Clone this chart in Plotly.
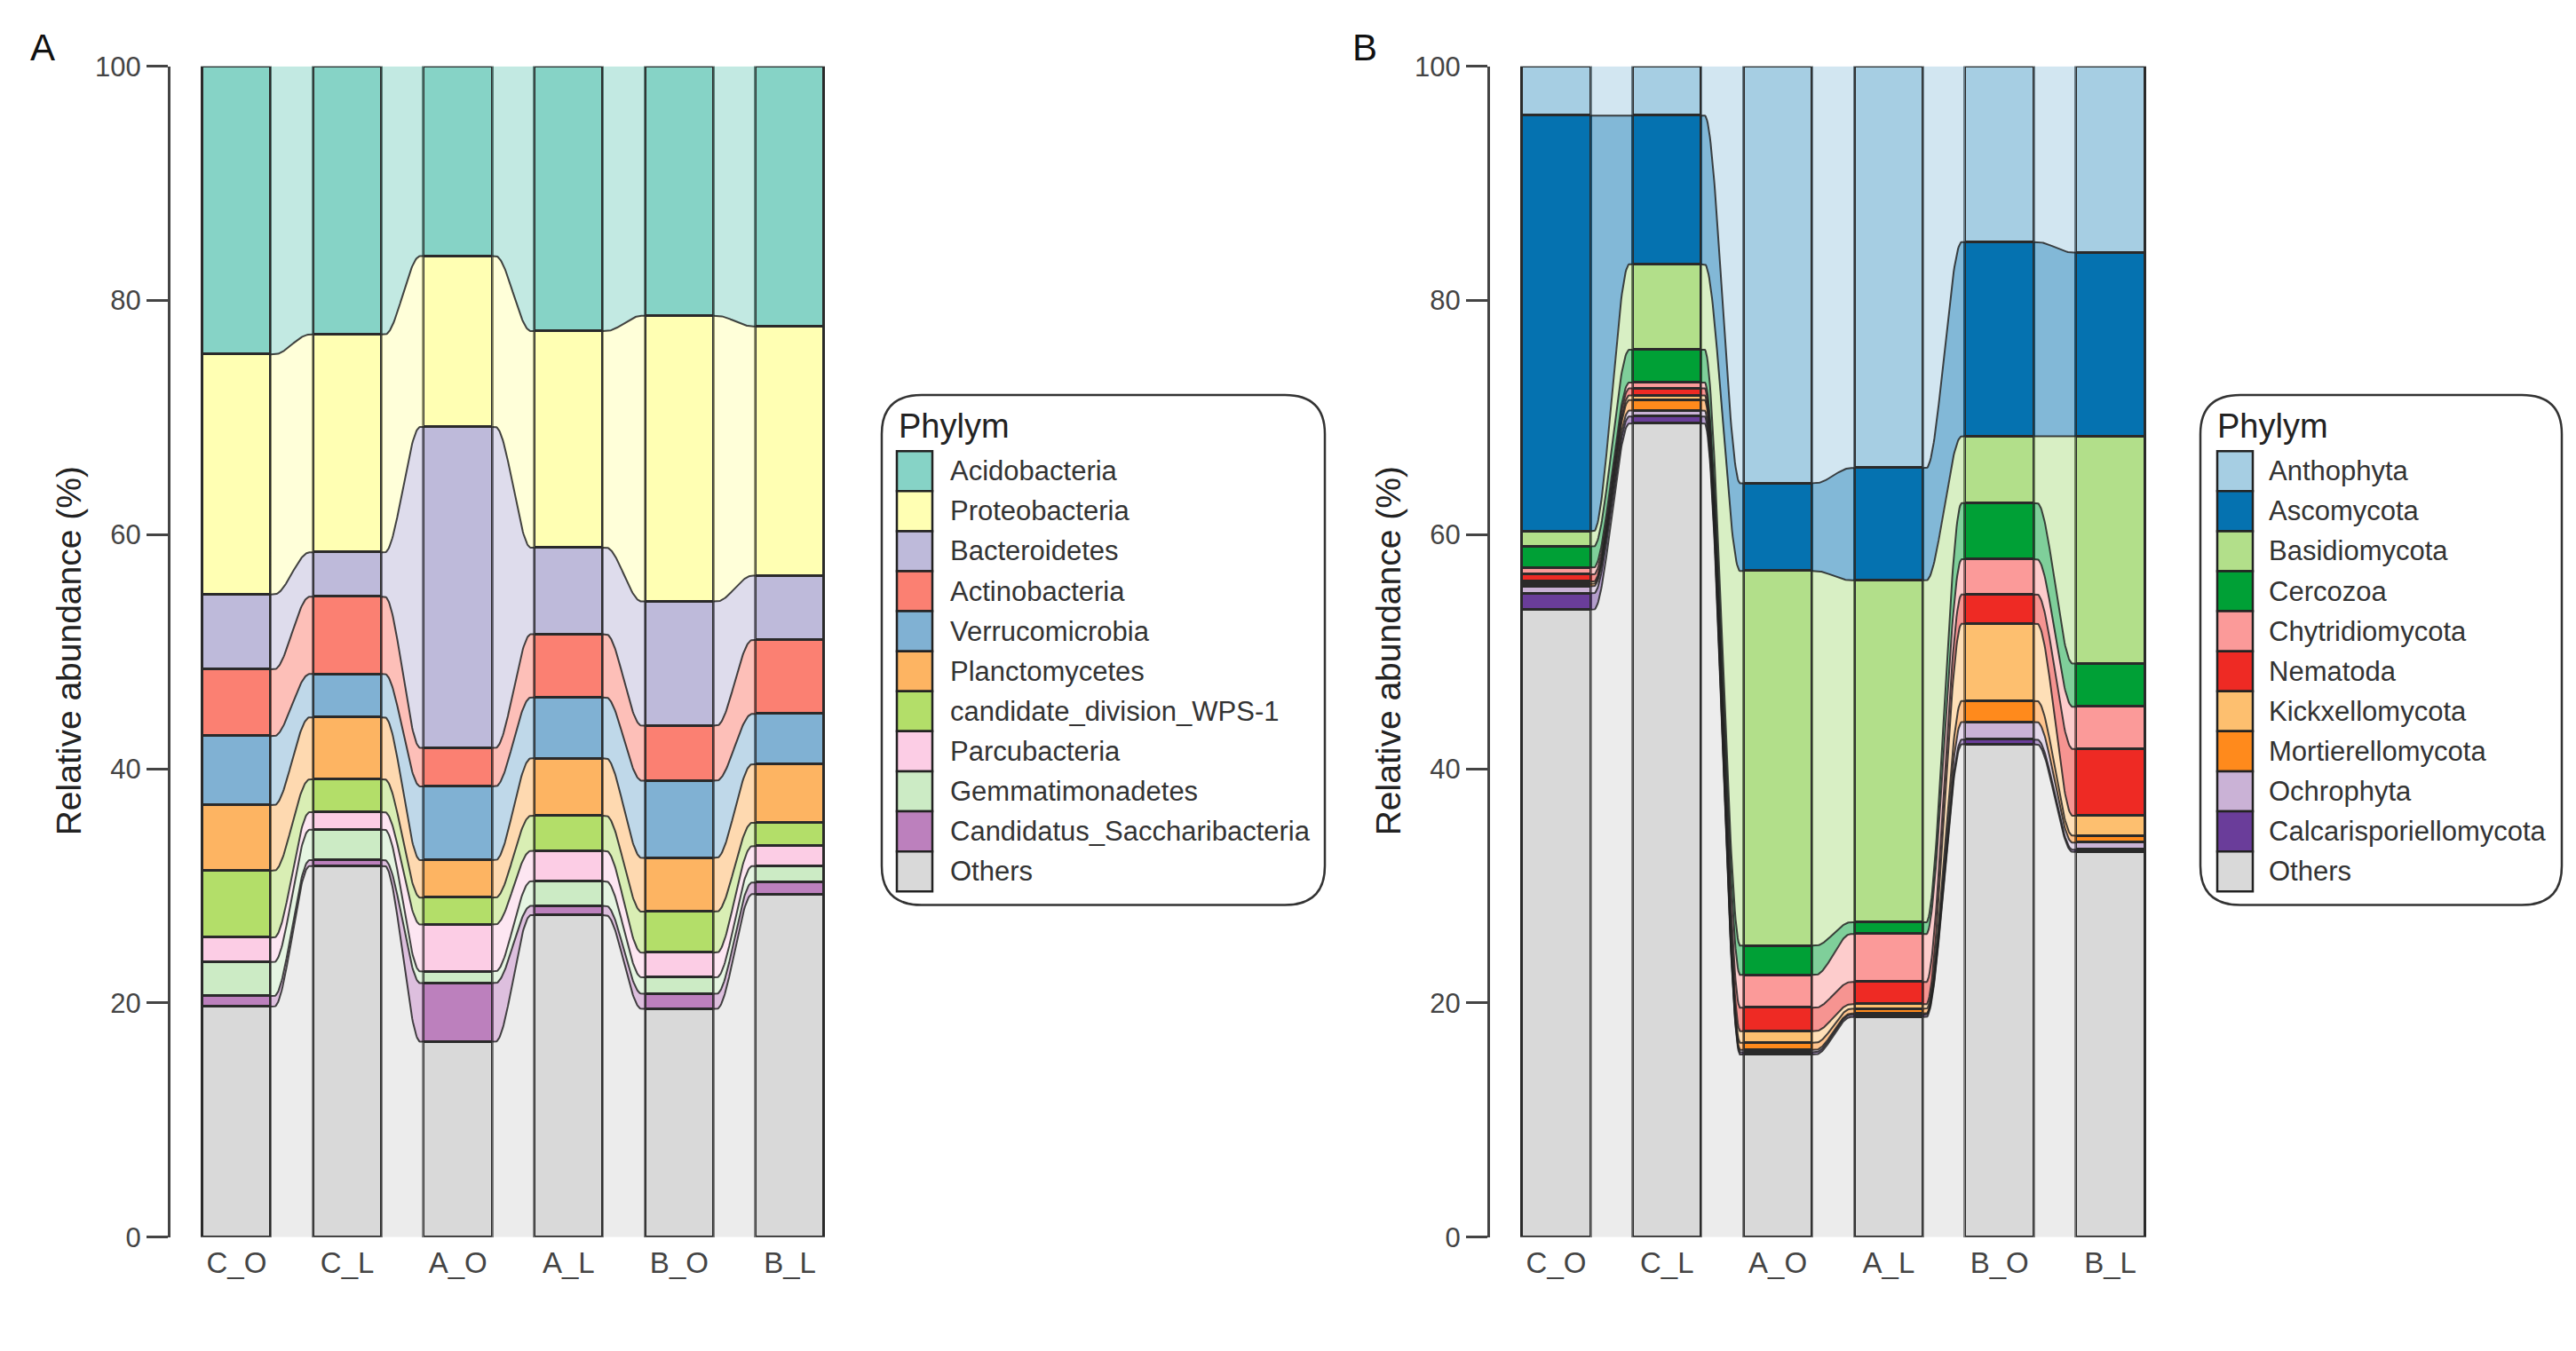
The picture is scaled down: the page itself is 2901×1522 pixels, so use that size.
import numpy as np
import plotly.graph_objects as go

W, H = 2901, 1522

samples = ["C_O", "C_L", "A_O", "A_L", "B_O", "B_L"]
y_ticks = [0, 20, 40, 60, 80, 100]

# ---------------- Panel A (bacteria), legend order top -> bottom ----------------
bact_names = ["Acidobacteria", "Proteobacteria", "Bacteroidetes", "Actinobacteria",
              "Verrucomicrobia", "Planctomycetes", "candidate_division_WPS-1",
              "Parcubacteria", "Gemmatimonadetes", "Candidatus_Saccharibacteria", "Others"]
acidobacteria    = [24.6, 22.9, 16.2, 22.6, 21.3, 22.2]
proteobacteria   = [20.5, 18.6, 14.6, 18.5, 24.4, 21.3]
bacteroidetes    = [6.4, 3.8, 27.4, 7.4, 10.6, 5.5]
actinobacteria   = [5.7, 6.6, 3.3, 5.4, 4.7, 6.3]
verrucomicrobia  = [5.9, 3.7, 6.3, 5.2, 6.6, 4.3]
planctomycetes   = [5.6, 5.3, 3.2, 4.9, 4.6, 5.0]
wps1             = [5.7, 2.8, 2.3, 3.0, 3.5, 2.0]
parcubacteria    = [2.1, 1.5, 4.0, 2.6, 2.1, 1.7]
gemmatimonadetes = [2.9, 2.6, 1.0, 2.1, 1.4, 1.4]
saccharibacteria = [0.9, 0.5, 5.0, 0.8, 1.3, 1.0]
bact_others      = [19.7, 31.7, 16.7, 27.5, 19.5, 29.3]
bact_colors = ["#86D3C6", "#FFFFB3", "#BEBADA", "#FB8072", "#80B1D3", "#FDB462",
               "#B3DE69", "#FCCDE5", "#CCEBC5", "#BC80BD", "#D9D9D9"]

# ---------------- Panel B (eukaryotes), legend order top -> bottom ----------------
euk_names = ["Anthophyta", "Ascomycota", "Basidiomycota", "Cercozoa", "Chytridiomycota",
             "Nematoda", "Kickxellomycota", "Mortierellomycota", "Ochrophyta",
             "Calcarisporiellomycota", "Others"]
anthophyta        = [4.2, 4.2, 35.6, 34.3, 15.0, 15.9]
ascomycota        = [35.5, 12.7, 7.5, 9.6, 16.6, 15.7]
basidiomycota     = [1.3, 7.3, 32.0, 29.2, 5.7, 19.4]
cercozoa          = [1.8, 2.8, 2.5, 1.0, 4.8, 3.7]
chytridiomycota   = [0.6, 0.5, 2.8, 4.1, 3.0, 3.6]
nematoda          = [0.6, 0.6, 2.0, 1.9, 2.5, 5.7]
kickxellomycota   = [0.2, 0.4, 1.0, 0.4, 6.6, 1.7]
mortierellomycota = [0.2, 0.9, 0.6, 0.4, 1.8, 0.6]
ochrophyta        = [0.6, 0.5, 0.2, 0.1, 1.5, 0.6]
calcarisporiello  = [1.4, 0.6, 0.2, 0.2, 0.4, 0.2]
euk_others        = [53.6, 69.5, 15.6, 18.8, 42.1, 32.9]
euk_colors = ["#A6CEE3", "#0572B0", "#B2DF8A", "#00A036", "#FB9A99", "#EE2A24",
              "#FDBF6F", "#FF8A1C", "#CAB2D6", "#6A3D9A", "#D9D9D9"]

bact_values = [acidobacteria, proteobacteria, bacteroidetes, actinobacteria, verrucomicrobia,
               planctomycetes, wps1, parcubacteria, gemmatimonadetes, saccharibacteria, bact_others]
euk_values = [anthophyta, ascomycota, basidiomycota, cercozoa, chytridiomycota, nematoda,
              kickxellomycota, mortierellomycota, ochrophyta, calcarisporiello, euk_others]

BAR_W = 0.62
FONT = "Liberation Sans, Arial, sans-serif"


def rgba(hexc, a):
    h = hexc.lstrip("#")
    return f"rgba({int(h[0:2],16)},{int(h[2:4],16)},{int(h[4:6],16)},{a})"


def curve(t):
    s = np.clip((t - 0.08) / 0.84, 0, 1)
    return s * s * (3 - 2 * s)


fig = go.Figure()


def add_panel(names, values, colors, xa, ya):
    n = len(samples)
    xs_idx = np.arange(n)
    order = list(range(len(names)))[::-1]  # stack from bottom (Others) upwards
    cum = np.zeros(n)
    lows, highs = {}, {}
    for k in order:
        v = np.array(values[k], dtype=float)
        lows[k] = cum.copy()
        highs[k] = cum + v
        cum = cum + v
    t = np.linspace(0, 1, 60)
    f = curve(t)
    for k in order:
        for j in range(n - 1):
            x0 = j + BAR_W / 2
            x1 = j + 1 - BAR_W / 2
            xx = x0 + (x1 - x0) * t
            up = highs[k][j] + (highs[k][j + 1] - highs[k][j]) * f
            lo = lows[k][j] + (lows[k][j + 1] - lows[k][j]) * f
            fig.add_trace(go.Scatter(
                x=np.concatenate([xx, xx[::-1]]), y=np.concatenate([up, lo[::-1]]),
                fill="toself", fillcolor=rgba(colors[k], 0.5), mode="lines",
                line=dict(width=0), hoverinfo="skip", showlegend=False,
                xaxis=xa, yaxis=ya))
    lx, ly = [], []
    for k in order[:-1]:
        for j in range(n - 1):
            x0 = j + BAR_W / 2
            x1 = j + 1 - BAR_W / 2
            xx = x0 + (x1 - x0) * t
            yy = highs[k][j] + (highs[k][j + 1] - highs[k][j]) * f
            lx += list(xx) + [None]
            ly += list(yy) + [None]
    fig.add_trace(go.Scatter(x=lx, y=ly, mode="lines",
                             line=dict(color="rgba(35,35,35,0.85)", width=2),
                             hoverinfo="skip", showlegend=False, xaxis=xa, yaxis=ya))
    for k in order:
        fig.add_trace(go.Bar(
            x=xs_idx, y=values[k], width=BAR_W, name=names[k],
            marker=dict(color=colors[k], line=dict(color="#2a2a2a", width=2.7)),
            showlegend=False, xaxis=xa, yaxis=ya))


add_panel(bact_names, bact_values, bact_colors, "x", "y")
add_panel(euk_names, euk_values, euk_colors, "x2", "y2")


def px(x):
    return x / W


def py(y):
    return 1 - y / H


y_dom = [py(1401.0), py(51.0)]
xa_common = dict(range=[-0.6, 5.35], tickmode="array", tickvals=list(range(len(samples))),
                 ticktext=samples, showline=False, showgrid=False, zeroline=False,
                 ticks="", ticklabelstandoff=6,
                 tickfont=dict(family=FONT, size=33, color="#444444"))
ya_common = dict(range=[0, 100], tickmode="array", tickvals=y_ticks,
                 ticktext=[str(v) for v in y_ticks], showline=True, linecolor="#444444",
                 linewidth=2.5, ticks="outside", ticklen=24, tickwidth=2.5,
                 tickcolor="#444444", showgrid=False, zeroline=False,
                 tickfont=dict(family=FONT, size=31, color="#444444"), domain=y_dom)

fig.update_layout(
    width=W, height=H, autosize=False, barmode="stack", bargap=0,
    paper_bgcolor="white", plot_bgcolor="white",
    margin=dict(l=0, r=0, t=0, b=0),
    xaxis=dict(domain=[px(183.7), px(925.1)], anchor="y", **xa_common),
    yaxis=dict(anchor="x", **ya_common),
    xaxis2=dict(domain=[px(1669.6), px(2412.2)], anchor="y2", **xa_common),
    yaxis2=dict(anchor="x2", **ya_common),
)

annotations = []
shapes = []

for lab, xl in [("A", 24), ("B", 1513)]:
    annotations.append(dict(text=lab, x=px(xl), y=py(29), xref="paper", yref="paper",
                            xanchor="left", yanchor="middle", showarrow=False,
                            font=dict(family=FONT, size=42, color="#111111")))
for xc in [69, 1555]:
    annotations.append(dict(text="Relative abundance (%)", x=px(xc), y=py(725),
                            xref="paper", yref="paper", xanchor="center", yanchor="middle",
                            textangle=-90, showarrow=False,
                            font=dict(family=FONT, size=39, color="#222222")))


def rounded_box(x0, y0, x1, y1, r):
    rx, ry = r / W, r / H
    X0, X1 = px(x0), px(x1)
    Yt, Yb = py(y0), py(y1)
    path = (f"M {X0+rx},{Yt} L {X1-rx},{Yt} Q {X1},{Yt} {X1},{Yt-ry} "
            f"L {X1},{Yb+ry} Q {X1},{Yb} {X1-rx},{Yb} L {X0+rx},{Yb} "
            f"Q {X0},{Yb} {X0},{Yb+ry} L {X0},{Yt-ry} Q {X0},{Yt} {X0+rx},{Yt} Z")
    return dict(type="path", path=path, xref="paper", yref="paper",
                line=dict(color="#333333", width=2.5), fillcolor="rgba(0,0,0,0)")


def legend(names, colors, box, title_x, sw_x0, sw_x1, lab_x):
    shapes.append(rounded_box(*box, 45))
    annotations.append(dict(text="Phylym", x=px(title_x), y=py(465.6), xref="paper",
                            yref="paper", xanchor="left", yanchor="middle", showarrow=False,
                            font=dict(family=FONT, size=38, color="#222222")))
    pitch = 46.15
    for i, (nm, c) in enumerate(zip(names, colors)):
        cy = 517.7 + i * pitch
        shapes.append(dict(type="rect", xref="paper", yref="paper",
                           x0=px(sw_x0), x1=px(sw_x1), y0=py(cy + pitch / 2),
                           y1=py(cy - pitch / 2), fillcolor=c,
                           line=dict(color="#222222", width=2.5)))
        annotations.append(dict(text=nm, x=px(lab_x), y=py(cy), xref="paper", yref="paper",
                                xanchor="left", yanchor="middle", showarrow=False,
                                font=dict(family=FONT, size=31, color="#333333")))


legend(bact_names, bact_colors, (985, 430, 1484, 1018), 1002, 1002, 1042, 1060)
legend(euk_names, euk_colors, (2470, 430, 2877, 1018), 2487, 2489, 2529, 2545)

fig.update_layout(annotations=annotations, shapes=shapes)
fig.write_html("out.html")
